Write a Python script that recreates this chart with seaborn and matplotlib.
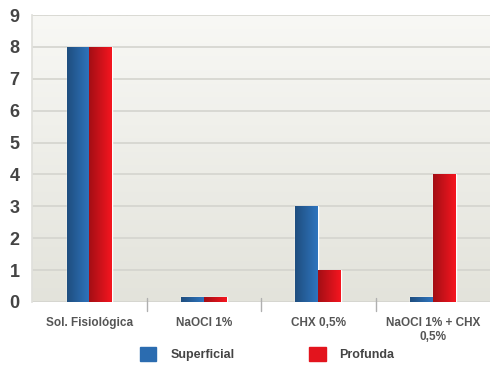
import numpy as np
import pandas as pd
import matplotlib
matplotlib.use("Agg")
import matplotlib.pyplot as plt
import seaborn as sns
from matplotlib.colors import LinearSegmentedColormap, to_rgb

categories = ["Sol. Fisiológica", "NaOCl 1%", "CHX 0,5%", "NaOCl 1% + CHX\n0,5%"]
superficial = [8, 0.15, 3, 0.15]
profunda = [8, 0.15, 1, 4]
series_names = ["Superficial", "Profunda"]
yticks = list(range(0, 10))

df = pd.DataFrame({
    "cat": categories * 2,
    "val": superficial + profunda,
    "serie": [series_names[0]] * 4 + [series_names[1]] * 4,
})

blue = "#2b6cb0"
red = "#e3141d"

sns.set_theme(style="white")
plt.rcParams["font.family"] = ["Liberation Sans", "DejaVu Sans"]

fig = plt.figure(figsize=(4.95, 3.66), dpi=100)
ax = fig.add_axes([0.065, 0.175, 0.925, 0.784])

sns.barplot(data=df, x="cat", y="val", hue="serie", palette=[blue, red],
            width=0.4, ax=ax, legend=False, saturation=1, zorder=3)

# soft vertical gradient behind the plot area (light at top)
grad = np.linspace(0, 1, 256).reshape(-1, 1)
bg = LinearSegmentedColormap.from_list("bg", ["#f8f8f5", "#e3e3db"])
ax.imshow(grad, extent=[-0.5, 3.5, 0, 9], aspect="auto", cmap=bg, zorder=0)

# horizontal shading on each bar
for patch, col in zip(ax.patches, [blue] * 4 + [red] * 4):
    x0, y0 = patch.get_x(), patch.get_y()
    w, h = patch.get_width(), patch.get_height()
    base = np.array(to_rgb(col))
    shades = np.linspace(0.72, 1.08, 64)
    img = np.clip(base[None, None, :] * shades[None, :, None], 0, 1)
    im = ax.imshow(img, extent=[x0, x0 + w, y0, y0 + h], aspect="auto", zorder=4)
    im.set_clip_path(patch)
ax.set_xlim(-0.5, 3.5)
ax.set_ylim(0, 9)

ax.set_yticks(yticks)
ax.yaxis.grid(True, color="#d4d4ce", linewidth=1.2, zorder=1)
ax.set_axisbelow(True)
for s in ["top", "right", "bottom", "left"]:
    ax.spines[s].set_visible(False)
ax.spines["left"].set_visible(True)
ax.spines["left"].set_color("#e0e0dc")

ax.tick_params(axis="y", length=0, labelsize=13, labelcolor="#444444", pad=9)
ax.tick_params(axis="x", length=0, labelsize=8.5, labelcolor="#555555", pad=11)
for lab in ax.get_yticklabels() + ax.get_xticklabels():
    lab.set_fontweight("bold")
ax.set_xlabel("")
ax.set_ylabel("")

# category separators across the baseline
trans = ax.get_xaxis_transform()
for xs in [0.5, 1.5, 2.5]:
    ax.plot([xs, xs], [-0.03, 0.015], transform=trans, color="#b0b0b0",
            linewidth=1, clip_on=False, zorder=5)

# legend
handles = [plt.Rectangle((0, 0), 1, 1, color=blue), plt.Rectangle((0, 0), 1, 1, color=red)]
leg = fig.legend(handles, series_names, loc="lower center", bbox_to_anchor=(0.54, -0.018),
                 ncol=2, frameon=False, handlelength=1.3, handleheight=1.3,
                 columnspacing=6.0, handletextpad=1.1,
                 prop={"weight": "bold", "size": 9})
for t in leg.get_texts():
    t.set_color("#444444")

fig.savefig("out.png", dpi=100, facecolor="white")
